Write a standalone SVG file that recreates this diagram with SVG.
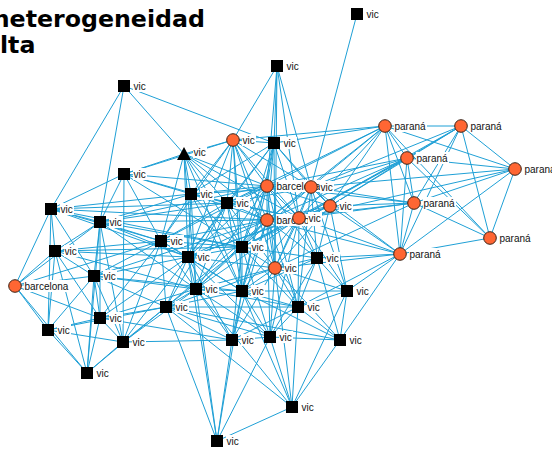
<svg xmlns="http://www.w3.org/2000/svg" width="552" height="450" viewBox="0 0 552 450">
<style>
  .e { stroke: #1fa0d6; stroke-width: 1; fill: none; }
  .sq { fill: #000; }
  .tr { fill: #000; }
  .ci { fill: #ff6633; stroke: #3a2418; stroke-width: 1; }
  .bg { fill: #fff; }
  .lb { font-family: "Liberation Sans", Arial, sans-serif; font-size: 10px; fill: #111; }
  .title { font-family: "DejaVu Sans", Verdana, sans-serif; font-weight: bold; font-size: 23.7px; fill: #000; }
</style>
<rect width="552" height="450" fill="#fff"/>

<text class="title" x="-7.3" y="27">heterogeneidad</text>
<text class="title" x="-16" y="53">alta</text>

<g id="connectors">
  <path class="e" d="M357 14L311 187"/>
  <path class="e" d="M277 66L233 140M277 66L274 143M277 66L311 187M277 66L299 218M277 66L275 268M277 66L267 186"/>
  <path class="e" d="M124 86L274 143M124 86L184 154M124 86L51 209M124 86L100 222"/>
  <!-- paraná cluster -->
  <path class="e" d="M385 126L461 126M385 126L407 158M385 126L515 169M385 126L414 203M385 126L490 238M385 126L400 254M461 126L407 158M461 126L515 169M461 126L414 203M461 126L490 238M461 126L400 254M407 158L515 169M407 158L414 203M407 158L490 238M407 158L400 254M515 169L414 203M515 169L490 238M515 169L400 254M414 203L490 238M414 203L400 254M490 238L400 254"/>
  <path class="e" d="M385 126L267 186M385 126L311 187M385 126L330 206M385 126L267 220M385 126L299 218M385 126L274 143M385 126L233 140M385 126L227 203"/>
  <path class="e" d="M407 158L267 186M407 158L311 187M407 158L330 206M407 158L267 220M407 158L299 218M407 158L242 247"/>
  <path class="e" d="M414 203L267 186M414 203L311 187M414 203L330 206M414 203L299 218M414 203L267 220M414 203L275 268"/>
  <path class="e" d="M400 254L311 187M400 254L330 206M400 254L299 218M400 254L267 220M400 254L317 258M400 254L347 291M400 254L340 340M400 254L275 268M400 254L298 307"/>
  <path class="e" d="M461 126L311 187M461 126L330 206M461 126L299 218M515 169L311 187M515 169L299 218"/>
  <!-- central cluster -->
  <path class="e" d="M184 154L124 174M184 154L191 194M184 154L227 203M184 154L161 241M184 154L188 257M184 154L267 186M184 154L267 220M184 154L242 247M184 154L233 140M184 154L196 289M184 154L299 218M184 154L242 291"/>
  <path class="e" d="M191 194L124 174M191 194L51 209M191 194L100 222M191 194L161 241M191 194L227 203M191 194L188 257M191 194L267 186M191 194L267 220M191 194L233 140M191 194L274 143M191 194L242 247M191 194L196 289M191 194L299 218M191 194L242 291M191 194L311 187"/>
  <path class="e" d="M227 203L124 174M227 203L51 209M227 203L100 222M227 203L161 241M227 203L188 257M227 203L242 247M227 203L267 186M227 203L267 220M227 203L233 140M227 203L274 143M227 203L299 218M227 203L311 187M227 203L196 289M227 203L242 291M227 203L275 268M227 203L166 307"/>
  <path class="e" d="M233 140L267 186M233 140L267 220M233 140L299 218M233 140L311 187M233 140L242 247M233 140L242 291M233 140L275 268M233 140L188 257M233 140L161 241M233 140L274 143M233 140L124 174"/>
  <path class="e" d="M274 143L267 186M274 143L267 220M274 143L299 218M274 143L311 187M274 143L330 206M274 143L242 247M274 143L242 291M274 143L275 268M274 143L188 257"/>
  <path class="e" d="M267 186L311 187M267 186L330 206M267 186L267 220M267 186L299 218M267 186L275 268M267 186L242 247M267 186L188 257M267 186L161 241M267 186L196 289M267 186L242 291M267 186L317 258M267 186L124 174M267 186L100 222M267 186L298 307"/>
  <path class="e" d="M311 187L330 206M311 187L267 220M311 187L299 218M311 187L275 268M311 187L317 258M311 187L242 247M311 187L347 291M311 187L298 307"/>
  <path class="e" d="M330 206L267 220M330 206L299 218M330 206L275 268M330 206L317 258M330 206L347 291M330 206L242 247M330 206L188 257"/>
  <path class="e" d="M267 220L299 218M267 220L275 268M267 220L242 247M267 220L188 257M267 220L161 241M267 220L196 289M267 220L242 291M267 220L317 258M267 220L166 307M267 220L298 307M267 220L232 340M267 220L270 337M267 220L94 276M267 220L100 222"/>
  <path class="e" d="M299 218L275 268M299 218L317 258M299 218L242 247M299 218L242 291M299 218L188 257M299 218L347 291M299 218L298 307M299 218L270 337M299 218L196 289"/>
  <path class="e" d="M275 268L242 247M275 268L242 291M275 268L317 258M275 268L196 289M275 268L298 307M275 268L232 340M275 268L270 337M275 268L340 340M275 268L347 291M275 268L166 307M275 268L188 257M275 268L292 407"/>
  <path class="e" d="M161 241L124 174M161 241L51 209M161 241L100 222M161 241L55 251M161 241L94 276M161 241L188 257M161 241L242 247M161 241L196 289M161 241L166 307M161 241L242 291M161 241L100 318M161 241L123 342M161 241L15 286"/>
  <path class="e" d="M188 257L100 222M188 257L55 251M188 257L94 276M188 257L242 247M188 257L196 289M188 257L242 291M188 257L166 307M188 257L100 318M188 257L123 342M188 257L232 340M188 257L270 337M188 257L51 209M188 257L217 441"/>
  <path class="e" d="M242 247L196 289M242 247L242 291M242 247L317 258M242 247L166 307M242 247L298 307M242 247L232 340M242 247L270 337M242 247L100 222M242 247L124 174M242 247L51 209M242 247L55 251"/>
  <path class="e" d="M317 258L242 291M317 258L347 291M317 258L298 307M317 258L340 340M317 258L270 337"/>
  <path class="e" d="M196 289L166 307M196 289L242 291M196 289L232 340M196 289L270 337M196 289L298 307M196 289L100 318M196 289L123 342M196 289L94 276M196 289L55 251M196 289L100 222M196 289L217 441M196 289L292 407"/>
  <path class="e" d="M242 291L166 307M242 291L298 307M242 291L232 340M242 291L270 337M242 291L340 340M242 291L347 291M242 291L217 441M242 291L292 407M242 291L94 276"/>
  <path class="e" d="M347 291L298 307M347 291L340 340M347 291L292 407"/>
  <path class="e" d="M166 307L100 318M166 307L123 342M166 307L232 340M166 307L270 337M166 307L94 276M166 307L48 330M166 307L87 373M166 307L217 441M166 307L298 307M166 307L340 340M166 307L292 407"/>
  <path class="e" d="M298 307L270 337M298 307L340 340M298 307L232 340M298 307L292 407M232 340L270 337M232 340L217 441M270 337L340 340M270 337L292 407M270 337L217 441M340 340L292 407M292 407L217 441"/>
  <!-- left cluster -->
  <path class="e" d="M124 174L51 209M124 174L100 222M124 174L123 342"/>
  <path class="e" d="M51 209L100 222M51 209L55 251M51 209L15 286M51 209L94 276M51 209L48 330M51 209L267 220"/>
  <path class="e" d="M100 222L55 251M100 222L94 276M100 222L100 318M100 222L123 342M100 222L87 373"/>
  <path class="e" d="M55 251L15 286M55 251L94 276M55 251L100 318M55 251L48 330M55 251L87 373"/>
  <path class="e" d="M94 276L15 286M94 276L100 318M94 276L48 330M94 276L123 342M94 276L87 373"/>
  <path class="e" d="M15 286L100 222M15 286L100 318M15 286L48 330M15 286L87 373"/>
  <path class="e" d="M100 318L48 330M100 318L123 342M100 318L87 373M100 318L232 340M48 330L123 342M48 330L87 373M123 342L87 373M123 342L232 340"/>
</g>

<g id="n-s1"><rect class="bg" x="366" y="8" width="14" height="12"/><text class="lb" x="366.5" y="17.5">vic</text><rect class="sq" x="351" y="8" width="12" height="12"/></g>
<g id="n-s2"><rect class="bg" x="286" y="60" width="14" height="12"/><text class="lb" x="286.5" y="69.5">vic</text><rect class="sq" x="271" y="60" width="12" height="12"/></g>
<g id="n-s3"><rect class="bg" x="133" y="80" width="14" height="12"/><text class="lb" x="133.5" y="89.5">vic</text><rect class="sq" x="118" y="80" width="12" height="12"/></g>
<g id="n-s4"><rect class="bg" x="283" y="137" width="14" height="12"/><text class="lb" x="283.5" y="146.5">vic</text><rect class="sq" x="268" y="137" width="12" height="12"/></g>
<g id="n-s5"><rect class="bg" x="133" y="168" width="14" height="12"/><text class="lb" x="133.5" y="177.5">vic</text><rect class="sq" x="118" y="168" width="12" height="12"/></g>
<g id="n-s6"><rect class="bg" x="60" y="203" width="14" height="12"/><text class="lb" x="60.5" y="212.5">vic</text><rect class="sq" x="45" y="203" width="12" height="12"/></g>
<g id="n-s7"><rect class="bg" x="109" y="216" width="14" height="12"/><text class="lb" x="109.5" y="225.5">vic</text><rect class="sq" x="94" y="216" width="12" height="12"/></g>
<g id="n-s8"><rect class="bg" x="64" y="245" width="14" height="12"/><text class="lb" x="64.5" y="254.5">vic</text><rect class="sq" x="49" y="245" width="12" height="12"/></g>
<g id="n-s9"><rect class="bg" x="103" y="270" width="14" height="12"/><text class="lb" x="103.5" y="279.5">vic</text><rect class="sq" x="88" y="270" width="12" height="12"/></g>
<g id="n-s10"><rect class="bg" x="170" y="235" width="14" height="12"/><text class="lb" x="170.5" y="244.5">vic</text><rect class="sq" x="155" y="235" width="12" height="12"/></g>
<g id="n-s11"><rect class="bg" x="200" y="188" width="14" height="12"/><text class="lb" x="200.5" y="197.5">vic</text><rect class="sq" x="185" y="188" width="12" height="12"/></g>
<g id="n-s12"><rect class="bg" x="236" y="197" width="14" height="12"/><text class="lb" x="236.5" y="206.5">vic</text><rect class="sq" x="221" y="197" width="12" height="12"/></g>
<g id="n-s13"><rect class="bg" x="197" y="251" width="14" height="12"/><text class="lb" x="197.5" y="260.5">vic</text><rect class="sq" x="182" y="251" width="12" height="12"/></g>
<g id="n-s14"><rect class="bg" x="251" y="241" width="14" height="12"/><text class="lb" x="251.5" y="250.5">vic</text><rect class="sq" x="236" y="241" width="12" height="12"/></g>
<g id="n-s15"><rect class="bg" x="326" y="252" width="14" height="12"/><text class="lb" x="326.5" y="261.5">vic</text><rect class="sq" x="311" y="252" width="12" height="12"/></g>
<g id="n-s16"><rect class="bg" x="205" y="283" width="14" height="12"/><text class="lb" x="205.5" y="292.5">vic</text><rect class="sq" x="190" y="283" width="12" height="12"/></g>
<g id="n-s17"><rect class="bg" x="251" y="285" width="14" height="12"/><text class="lb" x="251.5" y="294.5">vic</text><rect class="sq" x="236" y="285" width="12" height="12"/></g>
<g id="n-s18"><rect class="bg" x="356" y="285" width="14" height="12"/><text class="lb" x="356.5" y="294.5">vic</text><rect class="sq" x="341" y="285" width="12" height="12"/></g>
<g id="n-s19"><rect class="bg" x="175" y="301" width="14" height="12"/><text class="lb" x="175.5" y="310.5">vic</text><rect class="sq" x="160" y="301" width="12" height="12"/></g>
<g id="n-s20"><rect class="bg" x="307" y="301" width="14" height="12"/><text class="lb" x="307.5" y="310.5">vic</text><rect class="sq" x="292" y="301" width="12" height="12"/></g>
<g id="n-s21"><rect class="bg" x="109" y="312" width="14" height="12"/><text class="lb" x="109.5" y="321.5">vic</text><rect class="sq" x="94" y="312" width="12" height="12"/></g>
<g id="n-s22"><rect class="bg" x="57" y="324" width="14" height="12"/><text class="lb" x="57.5" y="333.5">vic</text><rect class="sq" x="42" y="324" width="12" height="12"/></g>
<g id="n-s23"><rect class="bg" x="132" y="336" width="14" height="12"/><text class="lb" x="132.5" y="345.5">vic</text><rect class="sq" x="117" y="336" width="12" height="12"/></g>
<g id="n-s24"><rect class="bg" x="241" y="334" width="14" height="12"/><text class="lb" x="241.5" y="343.5">vic</text><rect class="sq" x="226" y="334" width="12" height="12"/></g>
<g id="n-s25"><rect class="bg" x="279" y="331" width="14" height="12"/><text class="lb" x="279.5" y="340.5">vic</text><rect class="sq" x="264" y="331" width="12" height="12"/></g>
<g id="n-s26"><rect class="bg" x="349" y="334" width="14" height="12"/><text class="lb" x="349.5" y="343.5">vic</text><rect class="sq" x="334" y="334" width="12" height="12"/></g>
<g id="n-s27"><rect class="bg" x="96" y="367" width="14" height="12"/><text class="lb" x="96.5" y="376.5">vic</text><rect class="sq" x="81" y="367" width="12" height="12"/></g>
<g id="n-s28"><rect class="bg" x="301" y="401" width="14" height="12"/><text class="lb" x="301.5" y="410.5">vic</text><rect class="sq" x="286" y="401" width="12" height="12"/></g>
<g id="n-s29"><rect class="bg" x="226" y="435" width="14" height="12"/><text class="lb" x="226.5" y="444.5">vic</text><rect class="sq" x="211" y="435" width="12" height="12"/></g>
<g id="n-t1"><rect class="bg" x="193" y="146" width="14" height="12"/><text class="lb" x="193.5" y="155.5">vic</text><polygon class="tr" points="184,147 177,160 191,160"/></g>

<g id="n-c1"><rect class="bg" x="242" y="134" width="14" height="12"/><text class="lb" x="242.5" y="143.5">vic</text><circle class="ci" cx="233" cy="140" r="6.3"/></g>
<g id="n-c2"><rect class="bg" x="276" y="180" width="46" height="12"/><text class="lb" x="276.5" y="189.5">barcelona</text><circle class="ci" cx="267" cy="186" r="6.3"/></g>
<g id="n-c3"><rect class="bg" x="320" y="181" width="14" height="12"/><text class="lb" x="320.5" y="190.5">vic</text><circle class="ci" cx="311" cy="187" r="6.3"/></g>
<g id="n-c4"><rect class="bg" x="339" y="200" width="14" height="12"/><text class="lb" x="339.5" y="209.5">vic</text><circle class="ci" cx="330" cy="206" r="6.3"/></g>
<g id="n-c5"><rect class="bg" x="276" y="214" width="46" height="12"/><text class="lb" x="276.5" y="223.5">barcelona</text><circle class="ci" cx="267" cy="220" r="6.3"/></g>
<g id="n-c6"><rect class="bg" x="308" y="212" width="14" height="12"/><text class="lb" x="308.5" y="221.5">vic</text><circle class="ci" cx="299" cy="218" r="6.3"/></g>
<g id="n-c7"><rect class="bg" x="284" y="262" width="14" height="12"/><text class="lb" x="284.5" y="271.5">vic</text><circle class="ci" cx="275" cy="268" r="6.3"/></g>
<g id="n-c8"><rect class="bg" x="24" y="280" width="46" height="12"/><text class="lb" x="24.5" y="289.5">barcelona</text><circle class="ci" cx="15" cy="286" r="6.3"/></g>

<g id="n-p1"><rect class="bg" x="394" y="120" width="33" height="12"/><text class="lb" x="394.5" y="129.5">paraná</text><circle class="ci" cx="385" cy="126" r="6.3"/></g>
<g id="n-p2"><rect class="bg" x="470" y="120" width="33" height="12"/><text class="lb" x="470.5" y="129.5">paraná</text><circle class="ci" cx="461" cy="126" r="6.3"/></g>
<g id="n-p3"><rect class="bg" x="416" y="152" width="33" height="12"/><text class="lb" x="416.5" y="161.5">paraná</text><circle class="ci" cx="407" cy="158" r="6.3"/></g>
<g id="n-p4"><rect class="bg" x="524" y="163" width="33" height="12"/><text class="lb" x="524.5" y="172.5">paraná</text><circle class="ci" cx="515" cy="169" r="6.3"/></g>
<g id="n-p5"><rect class="bg" x="423" y="197" width="33" height="12"/><text class="lb" x="423.5" y="206.5">paraná</text><circle class="ci" cx="414" cy="203" r="6.3"/></g>
<g id="n-p6"><rect class="bg" x="499" y="232" width="33" height="12"/><text class="lb" x="499.5" y="241.5">paraná</text><circle class="ci" cx="490" cy="238" r="6.3"/></g>
<g id="n-p7"><rect class="bg" x="409" y="248" width="33" height="12"/><text class="lb" x="409.5" y="257.5">paraná</text><circle class="ci" cx="400" cy="254" r="6.3"/></g>
</svg>
